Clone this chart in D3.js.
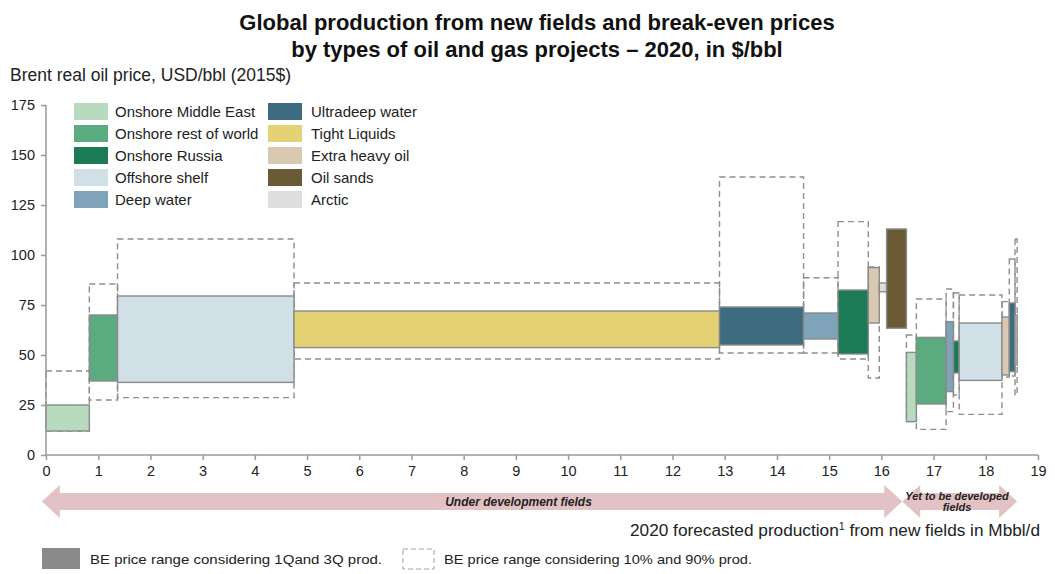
<!DOCTYPE html>
<html>
<head>
<meta charset="utf-8">
<script src="https://cdn.jsdelivr.net/npm/d3@7"></script>
<style>
  body { margin: 0; background: #fff; }
  svg { font-family: "Liberation Sans", Arial, sans-serif; }
</style>
</head>
<body>
<div id="chart"></div>
<script>
// project types (legend order) and their colours
const types = [
  "Onshore Middle East", "Onshore rest of world", "Onshore Russia",
  "Offshore shelf", "Deep water", "Ultradeep water", "Tight Liquids",
  "Extra heavy oil", "Oil sands", "Arctic"
];
const typeColors = [
  "#b8dbbf", "#5aab80", "#1b7b56", "#d1dfe7", "#7fa3b8",
  "#3d6b7f", "#e4d274", "#d9c9b3", "#6a5a35", "#dedede"
];

// supply-curve segments, in drawing order
const segType = [0, 1, 3, 6, 5, 4, 2, 7, 9, 8, 0, 1, 4, 2, 3, 7, 5, 9];
const segWidth = [0.83, 0.54, 3.38, 8.15, 1.61, 0.66, 0.58, 0.21, 0.14, 0.38,
                  0.19, 0.57, 0.14, 0.11, 0.82, 0.14, 0.11, 0.04];
const segQ1 = [12, 37, 36.3, 53.7, 55, 58, 50.5, 66, 81.6, 63.4,
               16.7, 25.5, 31.7, 41, 37.3, 40, 41.7, 45];
const segQ3 = [25, 70, 79.5, 72, 74, 71, 82.5, 93.7, 86, 113,
               51.3, 58.8, 66.7, 57, 66, 69, 76, 70];
const segP10 = [12, 27.5, 28.7, 48, 51, 51, 48, 38.5, null, null,
                16.7, 12.8, 21.7, 30, 20.3, 39, 39.5, 30];
const segP90 = [42, 85.5, 108, 86, 139, 88.6, 116.7, 94, null, null,
                60, 78, 83, 81, 80, 76.7, 98, 108];

const yTicks = [0, 25, 50, 75, 100, 125, 150, 175];
const xTicks = d3.range(0, 20);

// field status bands along the production axis
const bandLabels = [["Under development fields"], ["Yet to be developed", "fields"]];
const bandStart = [-0.08, 16.4];
const bandEnd = [16.4, 18.6];
const bandLabelAt = [9.05, 17.45];

const width = 1055, height = 574;
const x = d3.scaleLinear().domain([0, 19]).range([46, 1038]);
const y = d3.scaleLinear().domain([0, 175]).range([455, 105]);

const svg = d3.select("#chart").append("svg")
  .attr("width", width).attr("height", height);

// title
svg.append("text").attr("x", 537).attr("y", 30).attr("text-anchor", "middle")
  .attr("font-size", 22).attr("font-weight", "bold").attr("fill", "#111")
  .text("Global production from new fields and break-even prices");
svg.append("text").attr("x", 537).attr("y", 57).attr("text-anchor", "middle")
  .attr("font-size", 22).attr("font-weight", "bold").attr("fill", "#111")
  .text("by types of oil and gas projects \u2013 2020, in $/bbl");

svg.append("text").attr("x", 10).attr("y", 81).attr("font-size", 17.5).attr("fill", "#222")
  .text("Brent real oil price, USD/bbl (2015$)");

// cumulative x positions
const segs = segType.map((t, i) => {
  const x0 = d3.sum(segWidth.slice(0, i));
  return { t, x0, x1: x0 + segWidth[i], q1: segQ1[i], q3: segQ3[i], p10: segP10[i], p90: segP90[i] };
});

// dashed 10%-90% ranges
svg.append("g").selectAll("rect")
  .data(segs.filter(d => d.p10 != null))
  .join("rect")
  .attr("x", d => x(d.x0)).attr("width", d => x(d.x1) - x(d.x0))
  .attr("y", d => y(d.p90)).attr("height", d => y(d.p10) - y(d.p90))
  .attr("fill", "none").attr("stroke", "#8e8e8e").attr("stroke-width", 1.4)
  .attr("stroke-dasharray", "6,4");

// 1Q-3Q boxes
svg.append("g").selectAll("rect")
  .data(segs)
  .join("rect")
  .attr("x", d => x(d.x0)).attr("width", d => x(d.x1) - x(d.x0))
  .attr("y", d => y(d.q3)).attr("height", d => y(d.q1) - y(d.q3))
  .attr("fill", d => typeColors[d.t]).attr("stroke", "#8a8a8a").attr("stroke-width", 1.4);

// axes
const yAxis = svg.append("g").attr("transform", `translate(${x(0)},0)`)
  .call(d3.axisLeft(y).tickValues(yTicks).tickSize(5).tickPadding(6));
const xAxis = svg.append("g").attr("transform", `translate(0,${y(0)})`)
  .call(d3.axisBottom(x).tickValues(xTicks).tickSize(5).tickPadding(6));
[yAxis, xAxis].forEach(g => {
  g.selectAll("path, line").attr("stroke", "#9a9a9a").attr("stroke-width", 1.5);
  g.selectAll("text").attr("font-size", 14.5).attr("fill", "#222")
    .attr("font-family", "'Liberation Sans', Arial, sans-serif");
});
yAxis.select(".domain").attr("d", `M0,${y(175)}V${y(0)}`);
xAxis.select(".domain").attr("d", `M${x(0)},0H${x(19)}`);

// legend
const legend = svg.append("g");
types.forEach((name, i) => {
  const col = Math.floor(i / 5), row = i % 5;
  const lx = col === 0 ? 74 : 268, ly = 103 + row * 22;
  legend.append("rect").attr("x", lx).attr("y", ly).attr("width", 34).attr("height", 17)
    .attr("fill", typeColors[i]);
  legend.append("text").attr("x", lx + (col === 0 ? 41 : 43)).attr("y", ly + 14).attr("font-size", 15)
    .attr("fill", "#222").text(name);
});

// band arrows
const bandCy = 501.5;
const arrow = (a, b) => {
  const hl = 18, hh = 16.5, bh = 8.5;
  return `M${a},${bandCy} L${a + hl},${bandCy - hh} L${a + hl},${bandCy - bh} L${b - hl},${bandCy - bh}` +
    ` L${b - hl},${bandCy - hh} L${b},${bandCy} L${b - hl},${bandCy + hh} L${b - hl},${bandCy + bh}` +
    ` L${a + hl},${bandCy + bh} L${a + hl},${bandCy + hh} Z`;
};
bandLabels.forEach((lines, i) => {
  svg.append("path").attr("d", arrow(x(bandStart[i]), x(bandEnd[i]))).attr("fill", "#e3c2c5");
  lines.forEach((ln, j) => {
    svg.append("text").attr("x", x(bandLabelAt[i]))
      .attr("y", bandCy + 4 + (lines.length === 1 ? 0 : (j - 0.5) * 11))
      .attr("text-anchor", "middle").attr("font-size", lines.length === 1 ? 12 : 11)
      .attr("font-weight", "bold")
      .attr("font-style", "italic").attr("fill", "#222").text(ln);
  });
});

// x axis title
const xt = svg.append("text").attr("x", 1040).attr("y", 536).attr("text-anchor", "end")
  .attr("font-size", 16).attr("fill", "#222")
  .attr("textLength", 410).attr("lengthAdjust", "spacingAndGlyphs");
xt.append("tspan").text("2020 forecasted production");
xt.append("tspan").attr("font-size", 10).attr("dy", -6).text("1");
xt.append("tspan").attr("dy", 6).text(" from new fields in Mbbl/d");

// bottom legend
svg.append("rect").attr("x", 42).attr("y", 548).attr("width", 38).attr("height", 21).attr("fill", "#8a8a8a");
svg.append("text").attr("x", 90).attr("y", 564).attr("font-size", 13).attr("fill", "#222")
  .attr("textLength", 292).attr("lengthAdjust", "spacingAndGlyphs")
  .text("BE price range considering 1Qand 3Q prod.");
svg.append("rect").attr("x", 403).attr("y", 549).attr("width", 31).attr("height", 20)
  .attr("fill", "none").attr("stroke", "#a0a0a0").attr("stroke-width", 1).attr("stroke-dasharray", "5,3");
svg.append("text").attr("x", 444).attr("y", 564).attr("font-size", 13).attr("fill", "#222")
  .attr("textLength", 308).attr("lengthAdjust", "spacingAndGlyphs")
  .text("BE price range considering 10% and 90% prod.");
</script>
</body>
</html>
